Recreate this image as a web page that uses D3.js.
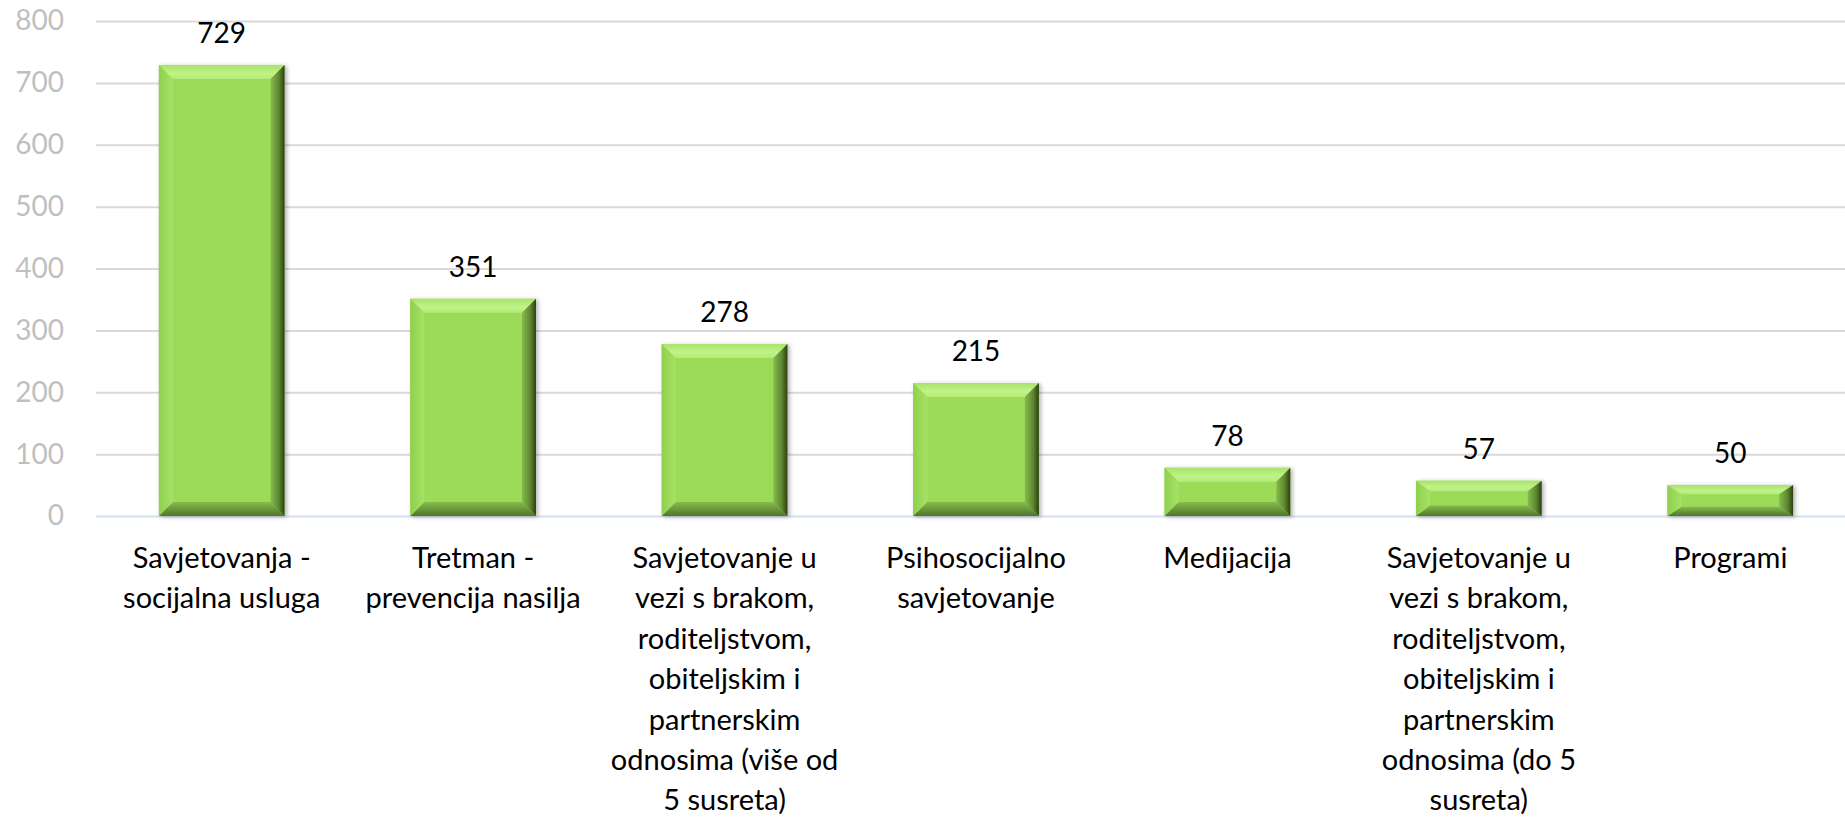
<!DOCTYPE html>
<html>
<head>
<meta charset="utf-8">
<script src="https://cdn.jsdelivr.net/npm/d3@7"></script>
<style>
  body { margin: 0; background: #fff; }
  svg { display: block; }
  svg text { font-family: Lato, "Open Sans", sans-serif; }
</style>
</head>
<body>
<div id="chart"></div>
<script>
// Category labels (line breaks as in the original chart)
const categories = [
    "Savjetovanja -\nsocijalna usluga",
    "Tretman -\nprevencija nasilja",
    "Savjetovanje u\nvezi s brakom,\nroditeljstvom,\nobiteljskim i\npartnerskim\nodnosima (više od\n5 susreta)",
    "Psihosocijalno\nsavjetovanje",
    "Medijacija",
    "Savjetovanje u\nvezi s brakom,\nroditeljstvom,\nobiteljskim i\npartnerskim\nodnosima (do 5\nsusreta)",
    "Programi"
];
const values = [729, 351, 278, 215, 78, 57, 50];
const yTicks = [0, 100, 200, 300, 400, 500, 600, 700, 800];

const W = 1845, H = 819;
const margin = {top: 21, left: 96, bottom: 303};
const fontSize = "28px";

const svg = d3.select("#chart")
    .append("svg")
    .attr("width", W)
    .attr("height", H);

const defs = svg.append("defs");

// drop shadow for bars
const shadow = defs.append("filter")
    .attr("id", "shadow")
    .attr("x", "-20%").attr("y", "-20%")
    .attr("width", "140%").attr("height", "140%");
shadow.append("feDropShadow")
    .attr("dx", 2).attr("dy", 1)
    .attr("stdDeviation", 2)
    .attr("flood-color", "#000")
    .attr("flood-opacity", 0.3);

// gradients for the bevel faces
function grad(id, x2, y2, stops) {
    const g = defs.append("linearGradient")
        .attr("id", id)
        .attr("x1", 0).attr("y1", 0)
        .attr("x2", x2).attr("y2", y2);
    stops.forEach(s => g.append("stop").attr("offset", s[0]).attr("stop-color", s[1]));
}
grad("bevTop", 0, 1, [[0, "#a9e36a"], [0.6, "#c0f388"], [1, "#b2ec78"]]);
grad("bevLeft", 1, 0, [[0, "#8fcf4e"], [1, "#a6e266"]]);
grad("bevRight", 1, 0, [[0, "#86bb4c"], [0.6, "#5d8630"], [1, "#2c3f14"]]);
grad("bevBottom", 0, 1, [[0, "#86bb4c"], [1, "#50762a"]]);

const x = d3.scaleBand()
    .domain(d3.range(categories.length))
    .range([margin.left, 1856])
    .paddingInner(0.5)
    .paddingOuter(0.25);

const y = d3.scaleLinear()
    .domain([0, 800])
    .range([H - margin.bottom, margin.top]);

// Y axis with gridlines
const yAxis = svg.append("g")
    .attr("transform", "translate(" + margin.left + ",0)")
    .call(d3.axisLeft(y)
        .tickValues(yTicks)
        .tickSize(-(W - margin.left))
        .tickPadding(32));
yAxis.attr("font-family", null);
yAxis.select(".domain").remove();
yAxis.selectAll(".tick line")
    .attr("stroke", d => d === 0 ? "#d5e0ee" : "#d9d9d9")
    .attr("stroke-width", 2);
yAxis.selectAll(".tick text")
    .attr("fill", "#bfbfbf")
    .style("font-size", fontSize);

// Bars with bevel
const bars = svg.append("g")
    .selectAll("g")
    .data(values)
    .join("g")
    .attr("filter", "url(#shadow)");

bars.each(function(v, i) {
    const g = d3.select(this);
    const x0 = x(i), x1 = x(i) + x.bandwidth();
    const y0 = y(v), y1 = y(0);
    const h = y1 - y0;
    const bx = 14;
    const by = Math.min(14, h * 0.3);
    const pts = a => a.map(p => p.join(",")).join(" ");
    g.append("rect")
        .attr("x", x0).attr("y", y0)
        .attr("width", x1 - x0).attr("height", h)
        .attr("fill", "#9cdb59");
    g.append("polygon")
        .attr("points", pts([[x0, y0], [x1, y0], [x1 - bx, y0 + by], [x0 + bx, y0 + by]]))
        .attr("fill", "url(#bevTop)");
    g.append("polygon")
        .attr("points", pts([[x0, y1], [x1, y1], [x1 - bx, y1 - by], [x0 + bx, y1 - by]]))
        .attr("fill", "url(#bevBottom)");
    g.append("polygon")
        .attr("points", pts([[x0, y0], [x0 + bx, y0 + by], [x0 + bx, y1 - by], [x0, y1]]))
        .attr("fill", "url(#bevLeft)");
    g.append("polygon")
        .attr("points", pts([[x1, y0], [x1 - bx, y0 + by], [x1 - bx, y1 - by], [x1, y1]]))
        .attr("fill", "url(#bevRight)");
});

// Value labels
svg.append("g")
    .selectAll("text")
    .data(values)
    .join("text")
    .attr("x", (d, i) => x(i) + x.bandwidth() / 2)
    .attr("y", d => y(d) - 22)
    .attr("text-anchor", "middle")
    .attr("fill", "#000")
    .style("font-size", fontSize)
    .text(d => d);

// X axis labels
const xAxis = svg.append("g")
    .attr("transform", "translate(0," + y(0) + ")")
    .call(d3.axisBottom(x).tickSize(0).tickFormat(""));
xAxis.attr("font-family", null);
xAxis.select(".domain").remove();
xAxis.selectAll(".tick text").remove();
xAxis.selectAll(".tick")
    .append("text")
    .attr("fill", "#000")
    .attr("text-anchor", "middle")
    .style("font-size", "29px")
    .selectAll("tspan")
    .data(i => categories[i].split("\n"))
    .join("tspan")
    .attr("x", 0)
    .attr("y", (d, j) => 52 + j * 40.4)
    .text(d => d);
</script>
</body>
</html>
